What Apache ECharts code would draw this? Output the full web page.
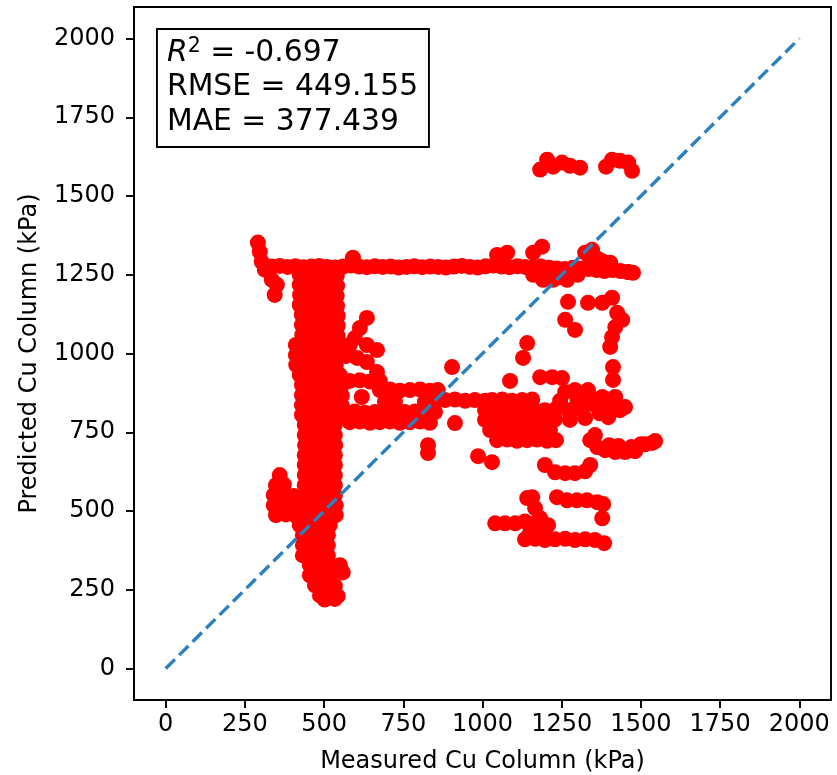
<!DOCTYPE html>
<html>
<head>
<meta charset="utf-8">
<script src="https://cdn.jsdelivr.net/npm/echarts@6/dist/echarts.min.js"></script>
<style>
html,body{margin:0;padding:0;background:#fff;}
#chart{width:837px;height:775px;}
</style>
</head>
<body>
<div id="chart"></div>
<script>
// Measured vs. predicted undrained shear strength (Cu), kPa. Each pair is [measured, predicted].
const tickValues = [0, 250, 500, 750, 1000, 1250, 1500, 1750, 2000];
const identityLine = [[0, 0], [2000, 2000]];
const r2Text = '-0.697';
const rmseText = '449.155';
const maeText = '377.439';

// predictions near 1600 kPa
const groupHigh = [
  [1182,1584],[1204,1615],[1223,1593],[1251,1606],[1276,1596],[1308,1590],
  [1390,1593],[1409,1615],[1434,1612],[1460,1606],[1472,1580]
];

// predictions near 1275 kPa
const groupPlateau = [
  [291,1352],[297,1323],[303,1291],[313,1266],
  [335,1276],[360,1278],[385,1275],[410,1277],[435,1274],[460,1276],[485,1278],[510,1275],
  [535,1273],[560,1276],[585,1279],[610,1276],[635,1274],[660,1277],[685,1275],[710,1276],
  [735,1273],[760,1275],[785,1277],[810,1274],[835,1276],[860,1275],[885,1273],[910,1276],
  [935,1278],[960,1275],[985,1273],[1010,1277],[1035,1279],[1060,1276],[1085,1274],[1110,1277],
  [1135,1275],[1160,1273],[1185,1276],[1210,1272],[1235,1270],[1260,1268],[1285,1272],[1310,1270],
  [1335,1268],[1360,1265],[1385,1262],[1410,1265],[1435,1262],[1460,1259],[1475,1256],
  [591,1304],[1046,1313],[1078,1320],[1160,1320],[1188,1339],[1324,1320],[1346,1329],
  [1381,1291],[1403,1288],[1457,1259],[1365,1300],[1340,1290],
  [1191,1234],[1223,1234],[1267,1234],[1245,1243],[1210,1250],[1160,1250],[1300,1250],
  [351,1218],[344,1186],[335,1234]
];

// measured 400-570 kPa, wide spread of predictions
const groupColumn = [
  [423,1250],[455,1252],[487,1248],[518,1250],[540,1247],
  [423,1218],[455,1220],[487,1216],[518,1218],[541,1215],
  [424,1186],[455,1188],[487,1184],[518,1186],[540,1183],
  [423,1154],[455,1156],[487,1152],[518,1154],[541,1151],
  [430,1123],[461,1125],[493,1121],[524,1123],[543,1120],
  [430,1091],[461,1093],[493,1089],[524,1091],[543,1088],
  [431,1059],[461,1061],[493,1057],[524,1059],[543,1056],
  [411,1027],[442,1029],[474,1025],[506,1027],[537,1026],[569,1024],
  [411,995],[442,997],[474,993],[506,995],[537,996],[569,992],
  [412,964],[442,966],[474,962],[506,964],[537,963],
  [423,932],[455,934],[487,930],[518,932],[550,931],
  [430,900],[461,902],[493,898],[524,900],[556,899],
  [430,868],[461,870],[493,866],[524,868],[556,867],
  [430,836],[461,838],[493,834],[524,836],[556,835],
  [430,805],[461,807],[493,803],[524,805],[556,804],
  [439,773],[471,775],[502,771],[534,773],
  [439,741],[471,743],[502,739],[534,741],
  [440,709],[471,711],[502,707],[535,709],
  [439,677],[471,679],[502,675],[534,677],
  [439,646],[471,648],[502,644],[534,646],
  [360,614],[439,614],[471,616],[502,612],[534,614],
  [348,582],[373,584],[439,582],[471,584],[502,580],[534,582],
  [341,550],[373,552],[404,548],[439,550],[471,552],[502,548],[534,550],
  [341,518],[373,520],[404,516],[436,518],[468,520],[499,516],[537,518],
  [348,487],[379,489],[411,485],[442,487],[474,489],[506,485],[537,487],
  [423,455],[455,457],[487,453],[518,455],
  [433,423],[464,425],[496,421],[512,423],
  [433,391],[464,393],[496,389],[512,391],
  [433,359],[464,361],[496,357],[512,359],
  [455,328],[487,330],[518,326],[550,328],
  [455,296],[487,298],[518,294],[559,305],
  [471,264],[502,266],[534,262],
  [487,232],[518,234],[543,230],
  [502,219],[534,221]
];

// measured 580-670 kPa, predictions 940-1115 kPa
const groupSide = [
  [635,1113],[613,1081],[597,1049],[635,1027],[667,1011],[604,986],[635,973],[667,941],[581,1027]
];

// predictions 780-960 kPa, measured 560-1010 kPa
const groupMiddle = [
  [581,913],[613,915],[645,911],[676,913],
  [676,884],[708,886],[739,882],[771,884],[803,886],[834,882],[859,884],
  [619,862],
  [692,846],[724,848],[818,846],[850,848],
  [566,814],[597,816],[629,812],[660,814],[692,816],[724,812],[755,814],[787,816],[818,812],[850,814],
  [581,782],[613,784],[645,780],[676,782],[708,784],[739,780],[771,782],[803,784],[834,780],
  [882,852],[913,854],[945,850],[976,852],[1008,850],
  [913,779],[828,709],[828,684],[904,957]
];

// measured 1000-1260 kPa, predictions 650-925 kPa
const groupDense = [
  [1087,913],[1182,925],[1220,925],[1251,922],
  [1030,852],[1062,854],[1093,850],[1125,852],[1157,854],[1245,850],
  [1008,820],[1040,822],[1071,818],[1103,820],[1134,822],[1166,818],[1197,820],[1229,822],
  [1008,789],[1040,791],[1071,787],[1103,789],[1134,791],[1166,787],[1197,789],[1229,791],
  [1024,757],[1055,759],[1087,755],[1119,757],[1150,759],[1182,755],[1213,757],
  [1046,725],[1078,727],[1109,723],[1141,725],[1172,727],[1204,723],[1232,725],
  [986,674],[1030,655]
];

// measured 1260-1560 kPa, predictions 680-1180 kPa
const groupRight = [
  [1261,878],[1292,884],[1333,884],[1378,862],[1419,862],[1450,830],[1397,798],[1314,820],
  [1270,820],[1355,836],[1276,789],[1324,795],[1434,820],[1412,957],[1412,916],
  [1300,850],[1340,860],[1390,830],[1420,840],[1370,810],
  [1355,741],[1362,703],[1387,693],[1419,687],[1450,687],[1482,690],[1513,712],[1536,716],
  [1340,725],[1545,722],[1400,709],[1430,706],[1470,703],[1500,712],
  [1270,1164],[1261,1107],[1292,1075],[1333,1161],[1378,1161],[1409,1177],[1425,1129],
  [1441,1107],[1419,1084],[1409,1052],[1403,1021],[1141,1033],[1128,986]
];

// measured 1040-1390 kPa, predictions 400-650 kPa
const groupLow = [
  [1197,646],[1229,623],[1261,620],[1292,620],[1324,626],[1340,646],
  [1235,544],[1267,534],[1298,534],[1330,534],[1362,528],[1381,522],[1378,477],
  [1141,541],[1157,544],[1166,509],[1182,477],[1197,445],
  [1040,461],[1071,461],[1103,461],[1134,467],[1166,461],[1207,455],
  [1134,410],[1166,412],[1197,408],[1229,410],[1261,412],[1292,408],[1324,410],[1355,408],
  [1384,398],[1150,432]
];

const points = [].concat(groupHigh, groupPlateau, groupColumn, groupSide,
  groupMiddle, groupDense, groupRight, groupLow);

const FONT = 'DejaVu Sans';

function valueAxis(name, gap, rotate, labelMargin) {
  return {
    type: 'value',
    min: -100,
    max: 2100,
    name: name,
    nameLocation: 'middle',
    nameGap: gap,
    nameRotate: rotate,
    nameTextStyle: { fontFamily: FONT, fontSize: 24, color: '#000' },
    axisLine: { show: true, onZero: false, lineStyle: { color: '#000', width: 1.9 } },
    splitLine: { show: false },
    axisTick: {
      show: true, inside: false, length: 8,
      customValues: tickValues,
      lineStyle: { color: '#000', width: 1.9 }
    },
    axisLabel: {
      customValues: tickValues,
      formatter: function (v) { return String(v); },
      fontFamily: FONT, fontSize: 24, color: '#000', margin: labelMargin
    }
  };
}

const chart = echarts.init(document.getElementById('chart'), null, { renderer: 'canvas' });

chart.setOption({
  animation: false,
  backgroundColor: '#fff',
  grid: {
    left: 134, right: 6, top: 7, bottom: 75,
    containLabel: false,
    outerBoundsMode: 'none',
    show: true, borderColor: '#000', borderWidth: 1.9
  },
  xAxis: valueAxis('Measured Cu Column (kPa)', 50, 0, 13),
  yAxis: valueAxis('Predicted Cu Column (kPa)', 92, 90, 19),
  series: [
    {
      type: 'scatter',
      data: points,
      symbol: 'circle',
      symbolSize: 16,
      itemStyle: { color: '#ff0000', opacity: 1 },
      z: 2
    },
    {
      type: 'line',
      data: identityLine,
      symbol: 'none',
      lineStyle: { color: '#2b80c0', width: 3.4, type: [13, 6] },
      z: 3
    }
  ],
  graphic: [
    {
      type: 'group',
      left: 156,
      top: 28,
      z: 100,
      children: [
        {
          type: 'rect',
          shape: { x: 0, y: 0, width: 272, height: 118 },
          style: { fill: '#fff', stroke: '#000', lineWidth: 1.9 }
        },
        {
          type: 'text',
          x: 10,
          y: 7,
          style: {
            text: '{it|R}{sup|2}{n| = ' + r2Text + '}\n{n|RMSE = ' + rmseText + '}\n{n|MAE = ' + maeText + '}',
            fill: '#000',
            rich: {
              it: { fontFamily: FONT, fontStyle: 'italic', fontSize: 29.8, lineHeight: 34.5, fill: '#000' },
              sup: { fontFamily: FONT, fontSize: 20.5, lineHeight: 20, verticalAlign: 'top', fill: '#000' },
              n: { fontFamily: FONT, fontSize: 29.8, lineHeight: 34.5, fill: '#000' }
            }
          }
        }
      ]
    }
  ]
});
</script>
</body>
</html>
